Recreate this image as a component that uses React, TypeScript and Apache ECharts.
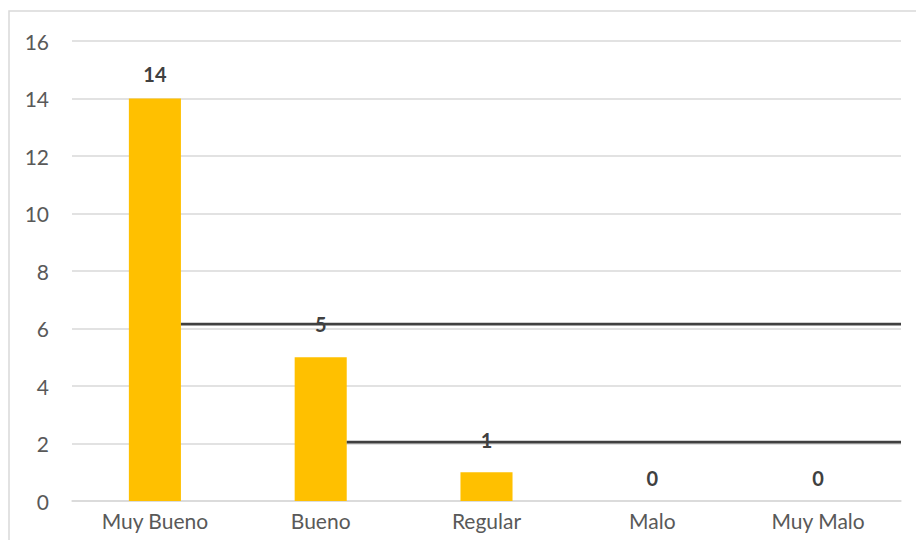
import React, { useEffect, useRef } from "react";
import * as echarts from "echarts";

// Survey answers and their counts
const categories = ["Muy Bueno", "Bueno", "Regular", "Malo", "Muy Malo"];
const counts = [14, 5, 1, 0, 0];

// Value axis ticks
const yMin = 0;
const yMax = 16;
const yStep = 2;

// Horizontal reference lines: level and the bar they start from
const refLevels = [6.15, 2.05];
const refFromBar = [0, 1];

// Lift of each value label above its bar (px)
const labelLift = [15, 23, 22, 13, 13];

const BAR_FRACTION = 0.314;
const FONT = "Lato, 'Noto Sans', sans-serif";

export default function App() {
  const ref = useRef<HTMLDivElement>(null);

  useEffect(() => {
    if (!ref.current) return;
    const chart = echarts.init(ref.current, undefined, { renderer: "svg" });

    const refSeries = refLevels.map((lvl, k) => ({
      type: "line" as const,
      xAxisIndex: 1,
      yAxisIndex: 0,
      symbol: "none",
      silent: true,
      z: 5,
      lineStyle: { color: "#404040", width: 2.8 },
      data: [
        [refFromBar[k] + 0.5 + BAR_FRACTION / 2, lvl],
        [categories.length, lvl],
      ],
    }));

    chart.setOption({
      animation: false,
      backgroundColor: "#ffffff",
      textStyle: { fontFamily: FONT },
      graphic: [
        {
          type: "rect",
          shape: { x: 9, y: 11, width: 1000, height: 1000 },
          style: { fill: "none", stroke: "#d9d9d9", lineWidth: 1.5 },
          silent: true,
        },
      ],
      grid: { left: 72, right: 15, top: 41, bottom: 39 },
      xAxis: [
        {
          type: "category",
          data: categories,
          axisLine: { show: true, lineStyle: { color: "#d9d9d9", width: 1.5 } },
          axisTick: { show: false },
          axisLabel: {
            color: "#595959",
            fontSize: 21,
            fontFamily: FONT,
            margin: 9,
          },
        },
        {
          type: "value",
          min: 0,
          max: categories.length,
          show: false,
        },
      ],
      yAxis: {
        type: "value",
        min: yMin,
        max: yMax,
        interval: yStep,
        axisLine: { show: false },
        axisTick: { show: false },
        splitLine: { lineStyle: { color: "#d9d9d9", width: 1.5 } },
        axisLabel: {
          color: "#595959",
          fontSize: 21,
          fontFamily: FONT,
          margin: 23,
        },
      },
      series: [
        {
          type: "bar",
          xAxisIndex: 0,
          barWidth: `${BAR_FRACTION * 100}%`,
          itemStyle: { color: "#FFC000" },
          z: 3,
          label: {
            show: true,
            position: "top",
            color: "#404040",
            fontWeight: "bold",
            fontSize: 20,
            fontFamily: FONT,
          },
          data: counts.map((v, i) => ({
            value: v,
            label: { distance: labelLift[i] },
          })),
        },
        ...refSeries,
      ],
    });

    return () => chart.dispose();
  }, []);

  return (
    <div
      ref={ref}
      style={{ position: "absolute", left: 0, top: 0, width: 916, height: 540 }}
    />
  );
}
